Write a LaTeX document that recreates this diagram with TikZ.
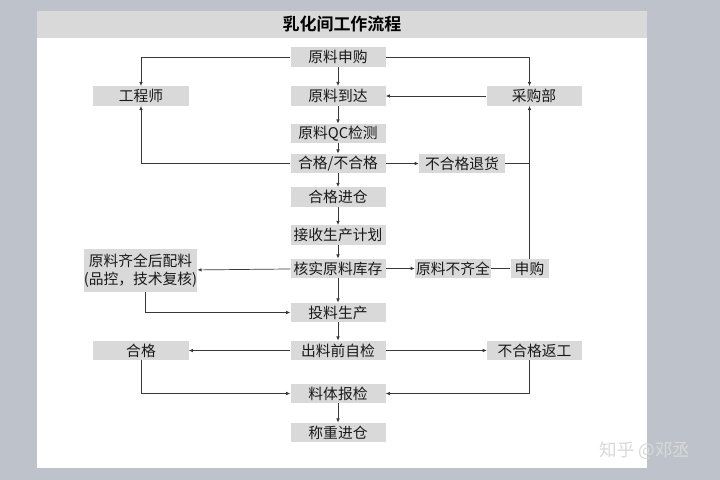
\documentclass[tikz,border=0pt]{standalone}
\usepackage{fontspec}
\setmainfont{Noto Sans CJK SC}[BoldFont={Noto Sans CJK SC Bold}]
\usetikzlibrary{arrows.meta}
\definecolor{bggray}{HTML}{BEC2CB}
\definecolor{boxgray}{HTML}{D9D9D9}
\definecolor{linegray}{HTML}{383838}
\def\bw{2.85cm}
\def\bh{0.58cm}
\tikzstyle{b}=[fill=boxgray,inner sep=0pt,minimum width=\bw,minimum height=\bh,font=\fontsize{12.6}{14}\selectfont,text=black!90]
\tikzstyle{ln}=[draw=linegray,line width=0.6pt]
\tikzstyle{arr}=[ln,-{Latex[length=3.5pt,width=3pt]}]

\begin{document}
\begin{tikzpicture}[x=0.03cm,y=-0.03cm]
\useasboundingbox (0,0) rectangle (720,480);
\fill[bggray] (0,0) rectangle (720,480);
\fill[white] (37,11) rectangle (647,468);
\fill[boxgray] (37,11) rectangle (647,38);
\node[font=\fontsize{14.5}{16}\selectfont\bfseries] (title) at (342,24) {乳化间工作流程};
% main column
\node[b](sq) at (338,57){原料申购};
\node[b](eng) at (141,96){工程师};
\node[b](dd) at (338,96){原料到达};
\node[b](cgb) at (534,96){采购部};
\node[b](qc) at (338,133.5){原料QC检测};
\node[b](hg) at (338,163.5){合格/不合格};
\node[b,minimum width=2.58cm](th) at (462,163.5){不合格退货};
\node[b](jc) at (338,197){合格进仓};
\node[b](jh) at (338,235){接收生产计划};
\node[b](kc) at (338,268.5){核实原料库存};
\node[b,minimum width=2.28cm](bq) at (453,268.5){原料不齐全};
\node[b,minimum width=1.14cm](sg) at (529.5,268.5){申购};
\node[b,minimum width=3.15cm,minimum height=1.29cm,align=center,font=\fontsize{12.6}{15}\selectfont](pl) at (140.5,270.5){原料齐全后配料\\(品控，技术复核)};
\node[b](tl) at (338,312.5){投料生产};
\node[b](hg2) at (141,350.5){合格};
\node[b](zj) at (338,350.5){出料前自检};
\node[b](fg) at (534.5,350.5){不合格返工};
\node[b](bj) at (338,393.5){料体报检};
\node[b](cz) at (338,432.5){称重进仓};
% connectors
\draw[arr](sq.west) -| (eng.north);
\draw[arr](sq.east) -| (sg.north |- cgb.north);
\draw[arr](sq) -- (dd);
\draw[arr](cgb) -- (dd);
\draw[arr](dd) -- (qc);
\draw[arr](qc) -- (hg);
\draw[arr](hg.west) -| (eng.south);
\draw[arr](hg) -- (th);
\draw[ln](th.east) -- (th.east -| sg.north);
\draw[arr](sg.north) -- (sg.north |- cgb.south);
\draw[arr](hg) -- (jc);
\draw[arr](jc) -- (jh);
\draw[arr](jh) -- (kc);
\draw[arr](kc) -- (pl);
\draw[arr](kc) -- (bq);
\draw[ln](bq) -- (sg);
\draw[arr](kc) -- (tl);
\draw[arr]([xshift=4pt]pl.south) |- (tl.west);
\draw[arr](tl) -- (zj);
\draw[arr](zj) -- (hg2);
\draw[arr](zj) -- (fg);
\draw[arr](hg2.south) |- (bj.west);
\draw[arr](fg.south -| sg.north) |- (bj.east);
\draw[arr](bj) -- (cz);
\node[font=\fontsize{15}{16}\selectfont,text=gray!30] (wm) at (645,451){知乎 @邓丞};
\end{tikzpicture}
\end{document}
